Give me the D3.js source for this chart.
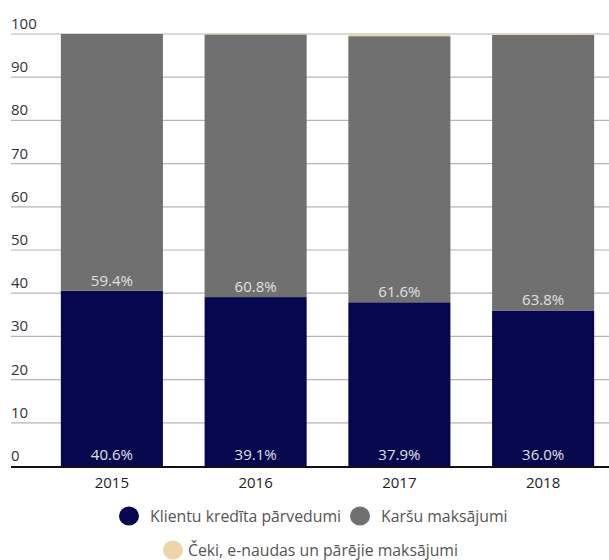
<!DOCTYPE html>
<html>
<head>
<meta charset="utf-8">
<script src="https://cdn.jsdelivr.net/npm/d3@7"></script>
<style>
  body { margin: 0; background: #fff; }
  svg text { font-family: "Open Sans", "Noto Sans", sans-serif; }
</style>
</head>
<body>
<svg id="chart" width="609" height="560"></svg>
<script>
// data
var years = ["2015", "2016", "2017", "2018"];
var klientu = [40.6, 39.1, 37.9, 36.0];
var karsu = [59.4, 60.8, 61.6, 63.8];
var ceki = [0.0, 0.1, 0.5, 0.2];
var seriesNames = ["Klientu kredīta pārvedumi", "Karšu maksājumi", "Čeki, e-naudas un pārējie maksājumi"];
var seriesColors = ["#07074f", "#707070", "#ecd5a8"];
var yTicks = [0, 10, 20, 30, 40, 50, 60, 70, 80, 90, 100];

var svg = d3.select("#chart");

var data = years.map(function(y, i) {
  return { year: y, k: klientu[i], c: karsu[i], e: ceki[i] };
});
var keys = ["k", "c", "e"];

var x = d3.scaleBand()
    .domain(years)
    .range([40, 615])
    .paddingInner(0.29)
    .paddingOuter(0.145);

var y = d3.scaleLinear()
    .domain([0, 100])
    .range([466, 34]);

var color = d3.scaleOrdinal().domain(keys).range(seriesColors);

// gridlines + labels
var grid = svg.append("g");
grid.selectAll("line")
  .data(yTicks.filter(function(d) { return d > 0; }))
  .enter().append("line")
    .attr("x1", 11).attr("x2", 609)
    .attr("y1", function(d) { return y(d); })
    .attr("y2", function(d) { return y(d); })
    .attr("stroke", "#b4b4b4")
    .attr("stroke-width", 1.2);
grid.selectAll("text")
  .data(yTicks)
  .enter().append("text")
    .attr("x", 11)
    .attr("y", function(d) { return y(d) - 5; })
    .attr("font-size", 15)
    .attr("fill", "#333")
    .text(function(d) { return d; });

// stacked bars
var stacked = d3.stack().keys(keys)(data);
svg.append("g")
  .selectAll("g")
  .data(stacked)
  .enter().append("g")
    .attr("fill", function(d) { return color(d.key); })
  .selectAll("rect")
  .data(function(d) { return d; })
  .enter().append("rect")
    .attr("x", function(d) { return x(d.data.year); })
    .attr("y", function(d) { return y(d[1]); })
    .attr("width", x.bandwidth())
    .attr("height", function(d) { return y(d[0]) - y(d[1]); });

// value labels
var lab = svg.append("g")
    .attr("font-size", 15)
    .attr("fill", "#e0e0e0")
    .attr("text-anchor", "middle");
lab.selectAll(".lk")
  .data(data)
  .enter().append("text")
    .attr("x", function(d) { return x(d.year) + x.bandwidth() / 2; })
    .attr("y", y(0) - 6)
    .text(function(d) { return d.k.toFixed(1) + "%"; });
lab.selectAll(".lc")
  .data(data)
  .enter().append("text")
    .attr("x", function(d) { return x(d.year) + x.bandwidth() / 2; })
    .attr("y", function(d) { return y(d.k) - 5; })
    .text(function(d) { return d.c.toFixed(1) + "%"; });

// x axis baseline + labels
svg.append("line")
    .attr("x1", 11).attr("x2", 609)
    .attr("y1", y(0) + 1).attr("y2", y(0) + 1)
    .attr("stroke", "#111")
    .attr("stroke-width", 2);
svg.append("g")
  .selectAll("text")
  .data(years)
  .enter().append("text")
    .attr("x", function(d) { return x(d) + x.bandwidth() / 2; })
    .attr("y", 488)
    .attr("text-anchor", "middle")
    .attr("font-size", 15)
    .attr("fill", "#222")
    .text(function(d) { return d; });

// legend
var legendPos = [[129, 516], [360, 516], [173, 550]];
var legend = svg.append("g")
  .selectAll("g")
  .data(seriesNames)
  .enter().append("g")
    .attr("transform", function(d, i) { return "translate(" + legendPos[i][0] + "," + legendPos[i][1] + ")"; });
legend.append("ellipse")
    .attr("rx", 10).attr("ry", 9.5)
    .attr("fill", function(d, i) { return seriesColors[i]; });
legend.append("text")
    .attr("x", function(d, i) { return i == 2 ? 15 : 21; })
    .attr("y", 6)
    .attr("font-size", 15.8)
    .attr("fill", "#555")
    .text(function(d) { return d; });
</script>
</body>
</html>
